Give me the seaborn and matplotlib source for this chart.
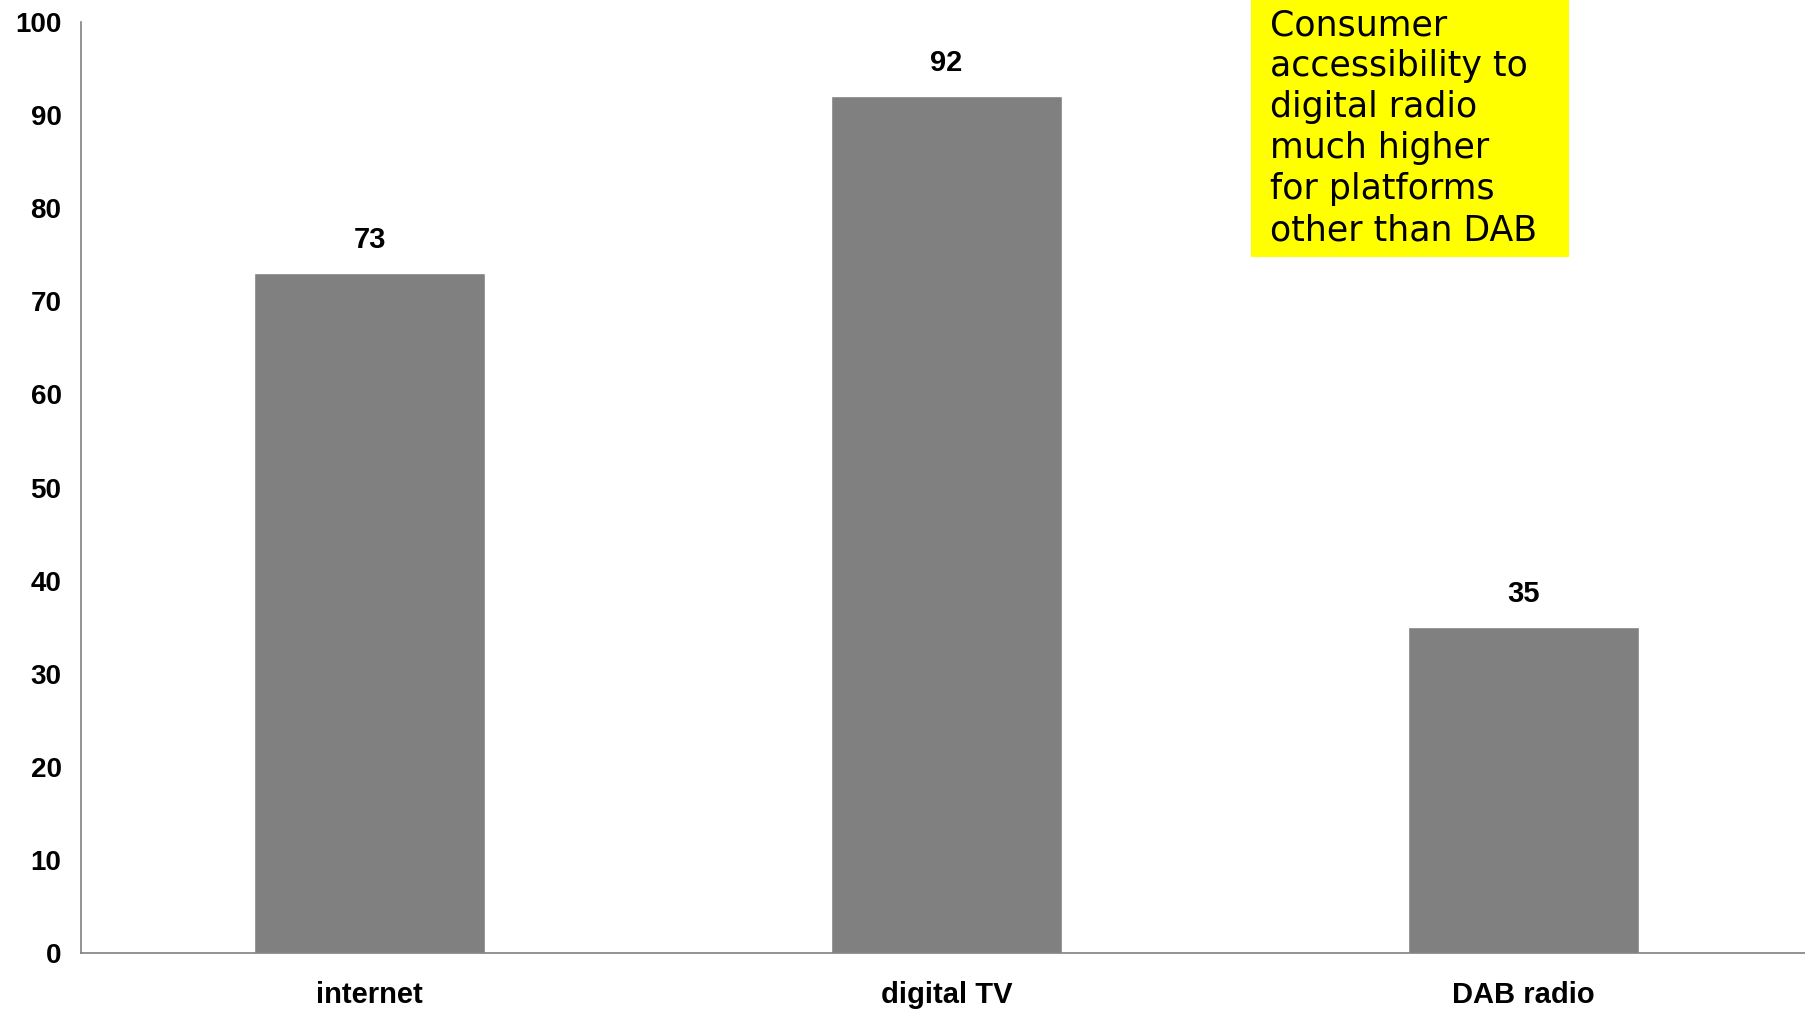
import matplotlib
matplotlib.use("Agg")
import matplotlib.pyplot as plt
import seaborn as sns
import pandas as pd
from matplotlib.patches import Rectangle

categories = ["internet", "digital TV", "DAB radio"]
values = [73, 92, 35]
yticks = [0, 10, 20, 30, 40, 50, 60, 70, 80, 90, 100]
note = "Consumer\naccessibility to\ndigital radio\nmuch higher\nfor platforms\nother than DAB"

sns.set_theme(style="white")
plt.rcParams['font.family'] = ['Liberation Sans', 'DejaVu Sans']
plt.rcParams['text.color'] = 'black'
plt.rcParams['xtick.color'] = 'black'
plt.rcParams['ytick.color'] = 'black'

W, H = 1805, 1011
fig = plt.figure(figsize=(W / 100, H / 100), dpi=100)
ax = fig.add_axes([81 / W, 1 - 953 / H, (1812 - 81) / W, (953 - 22) / H])

df = pd.DataFrame({"cat": categories, "val": values})
sns.barplot(data=df, x="cat", y="val", color="#808080", saturation=1, width=0.4, ax=ax)

ax.set_xlim(-0.5, 2.5)
ax.set_ylim(0, 100)
ax.set_yticks(yticks)
ax.set_yticklabels([str(t) for t in yticks], fontsize=20, fontweight="bold", color="black")
ax.set_xlabel("")
ax.set_ylabel("")

# category labels centered, ticks at boundaries
ax.set_xticks([-0.5, 0.5, 1.5, 2.5])
ax.set_xticklabels([])
ax.tick_params(axis="x", which="major", length=6, width=1, color="#808080", direction="out")
ax.set_xticks(range(len(categories)), minor=True)
ax.set_xticklabels(categories, minor=True, fontsize=21, fontweight="bold", color="black")
ax.tick_params(axis="x", which="minor", length=0, pad=20)
ax.tick_params(axis="y", length=6, width=1, color="#808080", direction="out", pad=8)

for s in ["top", "right"]:
    ax.spines[s].set_visible(False)
for s in ["left", "bottom"]:
    ax.spines[s].set_color("#808080")
    ax.spines[s].set_linewidth(1.2)

for i, v in enumerate(values):
    ax.annotate(str(v), (i, v), xytext=(0, 14), textcoords="offset points",
                ha="center", va="bottom", fontsize=21, fontweight="bold", color="black")

# yellow note box
fig.patches.append(Rectangle((1251 / W, 1 - 257 / H), (1569 - 1251) / W, 257 / H,
                             transform=fig.transFigure, facecolor="#FFFF00",
                             edgecolor="none", zorder=5))
fig.text(1270 / W, 1 - 8 / H, note, ha="left", va="top", fontsize=25,
         family=["DejaVu Sans"], color="black", linespacing=1.26, zorder=6)

fig.savefig("out.png", dpi=100)
